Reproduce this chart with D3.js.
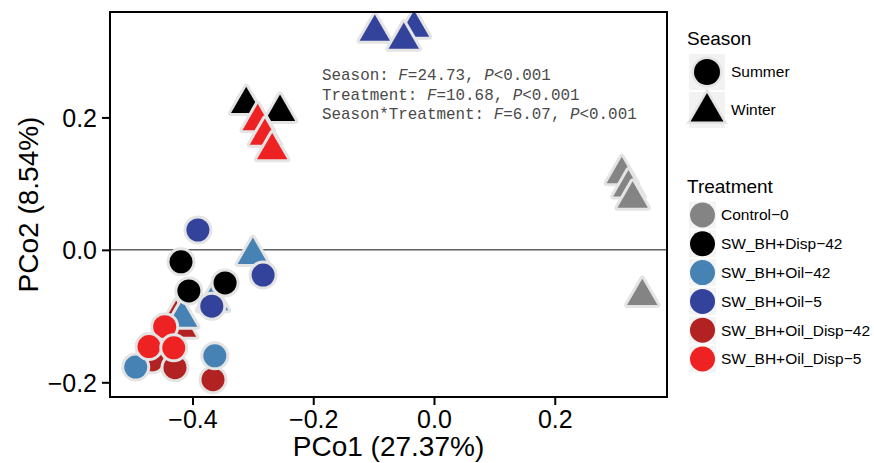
<!DOCTYPE html>
<html>
<head>
<meta charset="utf-8">
<script src="https://cdn.jsdelivr.net/npm/d3@7"></script>
<style>
  body { margin: 0; background: #fff; }
  text { font-family: "Liberation Sans", Arial, sans-serif; }
</style>
</head>
<body>
<svg id="chart" width="874" height="463"></svg>
<script>
// treatments, colours and seasons
const treatments = ["Control-0", "SW_BH+Disp-42", "SW_BH+Oil-42", "SW_BH+Oil-5", "SW_BH+Oil_Disp-42", "SW_BH+Oil_Disp-5"];
const treatmentColors = ["#848484", "#000000", "#4682b4", "#33429a", "#b22222", "#ee2222"];
const seasons = ["Summer", "Winter"];

// points: [treatment, season, PCo1, PCo2]
const controlPts = [
  ["Control-0", "Winter", 0.311, 0.114],
  ["Control-0", "Winter", 0.322, 0.094],
  ["Control-0", "Winter", 0.329, 0.077],
  ["Control-0", "Winter", 0.345, -0.070]
];
const oilDisp42Pts = [
  ["SW_BH+Oil_Disp-42", "Winter", -0.427, -0.103],
  ["SW_BH+Oil_Disp-42", "Winter", -0.419, -0.118],
  ["SW_BH+Oil_Disp-42", "Summer", -0.467, -0.166],
  ["SW_BH+Oil_Disp-42", "Summer", -0.429, -0.178],
  ["SW_BH+Oil_Disp-42", "Summer", -0.366, -0.196]
];
const oil42Pts = [
  ["SW_BH+Oil-42", "Winter", -0.300, -0.008],
  ["SW_BH+Oil-42", "Winter", -0.366, -0.078],
  ["SW_BH+Oil-42", "Winter", -0.417, -0.103],
  ["SW_BH+Oil-42", "Summer", -0.494, -0.177],
  ["SW_BH+Oil-42", "Summer", -0.363, -0.160]
];
const disp42Pts = [
  ["SW_BH+Disp-42", "Winter", -0.311, 0.220],
  ["SW_BH+Disp-42", "Winter", -0.255, 0.208],
  ["SW_BH+Disp-42", "Summer", -0.419, -0.018],
  ["SW_BH+Disp-42", "Summer", -0.346, -0.050],
  ["SW_BH+Disp-42", "Summer", -0.406, -0.062]
];
const oil5Pts = [
  ["SW_BH+Oil-5", "Winter", -0.098, 0.329],
  ["SW_BH+Oil-5", "Winter", -0.033, 0.335],
  ["SW_BH+Oil-5", "Winter", -0.050, 0.317],
  ["SW_BH+Oil-5", "Summer", -0.391, 0.030],
  ["SW_BH+Oil-5", "Summer", -0.283, -0.038],
  ["SW_BH+Oil-5", "Summer", -0.368, -0.085]
];
const oilDisp5Pts = [
  ["SW_BH+Oil_Disp-5", "Winter", -0.292, 0.194],
  ["SW_BH+Oil_Disp-5", "Winter", -0.280, 0.172],
  ["SW_BH+Oil_Disp-5", "Winter", -0.268, 0.150],
  ["SW_BH+Oil_Disp-5", "Summer", -0.446, -0.116],
  ["SW_BH+Oil_Disp-5", "Summer", -0.472, -0.146],
  ["SW_BH+Oil_Disp-5", "Summer", -0.431, -0.148]
];

const xTicks = [-0.4, -0.2, 0.0, 0.2];
const yTicks = [-0.2, 0.0, 0.2];
const statLines = [
  ["Season: ", "24.73"],
  ["Treatment: ", "10.68"],
  ["Season*Treatment: ", "6.07"]
];

const svg = d3.select("#chart");
const panel = {left: 110, right: 667, top: 12, bottom: 397};

const x = d3.scaleLinear().domain([-0.5366, 0.3859]).range([panel.left, panel.right]);
const y = d3.scaleLinear().domain([-0.2222, 0.3592]).range([panel.bottom, panel.top]);
const color = d3.scaleOrdinal().domain(treatments).range(treatmentColors);

const circleSize = Math.PI * 11.5 * 11.5;
const triSize = 400;
const shape = d3.scaleOrdinal().domain(seasons).range([d3.symbolCircle, d3.symbolTriangle]);
const sizeOf = s => s == "Summer" ? circleSize : triSize;
const halo = "#e4e4e4";

// zero line
svg.append("line")
  .attr("x1", panel.left).attr("x2", panel.right)
  .attr("y1", y(0)).attr("y2", y(0))
  .attr("stroke", "#111").attr("stroke-width", 1);

// points, each with a pale halo under it
const allPts = [].concat(controlPts, oilDisp42Pts, oil42Pts, disp42Pts, oil5Pts, oilDisp5Pts);
const g = svg.append("g").attr("clip-path", "url(#clip)");
svg.append("clipPath").attr("id", "clip")
  .append("rect").attr("x", panel.left).attr("y", panel.top)
  .attr("width", panel.right - panel.left).attr("height", panel.bottom - panel.top);

allPts.forEach(d => {
  const sym = d3.symbol().type(shape(d[1])).size(sizeOf(d[1]));
  const pg = g.append("g").attr("transform", `translate(${x(d[2])},${y(d[3])})`);
  pg.append("path").attr("d", sym()).attr("fill", halo)
    .attr("stroke", halo).attr("stroke-width", 6).attr("stroke-linejoin", "round");
  pg.append("path").attr("d", sym()).attr("fill", color(d[0]));
});

// panel border
svg.append("rect")
  .attr("x", panel.left).attr("y", panel.top)
  .attr("width", panel.right - panel.left).attr("height", panel.bottom - panel.top)
  .attr("fill", "none").attr("stroke", "#000").attr("stroke-width", 2);

// axes
const fmt = d => d3.format(".1f")(d).replace("-", "\u2212");
const xAxis = svg.append("g").attr("transform", `translate(0,${panel.bottom + 1})`)
  .call(d3.axisBottom(x).tickValues(xTicks).tickSize(7).tickPadding(5).tickFormat(fmt));
const yAxis = svg.append("g").attr("transform", `translate(${panel.left - 1},0)`)
  .call(d3.axisLeft(y).tickValues(yTicks).tickSize(7).tickPadding(5).tickFormat(fmt));
[xAxis, yAxis].forEach(a => {
  a.select(".domain").remove();
  a.selectAll(".tick line").attr("stroke", "#000").attr("stroke-width", 2);
  a.selectAll("text").attr("fill", "#000").style("font-size", "25px")
    .style("font-family", "'Liberation Sans', Arial, sans-serif");
});
yAxis.selectAll("text").attr("dy", "0.35em");

svg.append("text").attr("x", (panel.left + panel.right) / 2).attr("y", 456)
  .attr("text-anchor", "middle").style("font-size", "28px").text("PCo1 (27.37%)");
svg.append("text").attr("transform", `translate(38,${(panel.top + panel.bottom) / 2}) rotate(-90)`)
  .attr("text-anchor", "middle").style("font-size", "28px").text("PCo2 (8.54%)");

// PERMANOVA text
const stat = svg.append("g").attr("fill", "#4a4a4a");
statLines.forEach((s, i) => {
  const t = stat.append("text").attr("x", 322).attr("y", 80 + i * 19.5)
    .style("font-family", "'Liberation Mono', 'Courier New', monospace")
    .style("font-size", "15.9px");
  t.append("tspan").text(s[0]);
  t.append("tspan").style("font-style", "italic").text("F");
  t.append("tspan").text("=" + s[1] + ", ");
  t.append("tspan").style("font-style", "italic").text("P");
  t.append("tspan").text("<0.001");
});

// legend: Season
const leg = svg.append("g");
leg.append("text").attr("x", 687).attr("y", 45).style("font-size", "19px").text("Season");
seasons.forEach((s, i) => {
  const cy = 72 + i * 38;
  leg.append("rect").attr("x", 689).attr("y", cy - 18).attr("width", 36).attr("height", 36).attr("fill", "#f2f2f2");
  const sym = d3.symbol().type(shape(s)).size(s == "Summer" ? Math.PI * 13 * 13 : 470);
  const kg = leg.append("g").attr("transform", `translate(707,${cy + (s == "Winter" ? 2 : 0)})`);
  kg.append("path").attr("d", sym()).attr("fill", halo).attr("stroke", halo).attr("stroke-width", 5);
  kg.append("path").attr("d", sym()).attr("fill", "#000");
  leg.append("text").attr("x", 731).attr("y", cy).attr("dy", "0.35em").style("font-size", "15.5px").text(s);
});

// legend: Treatment
leg.append("text").attr("x", 687).attr("y", 193).style("font-size", "19px").text("Treatment");
treatments.forEach((t, i) => {
  const cy = 215 + i * 28.8;
  leg.append("rect").attr("x", 689).attr("y", cy - 13.5).attr("width", 27).attr("height", 27).attr("fill", "#f4f4f4");
  leg.append("circle").attr("cx", 702.5).attr("cy", cy).attr("r", 12.5).attr("fill", color(t));
  leg.append("text").attr("x", 721).attr("y", cy).attr("dy", "0.35em").style("font-size", "15.5px").text(t.replace(/-/g, "\u2212"));
});
</script>
</body>
</html>
